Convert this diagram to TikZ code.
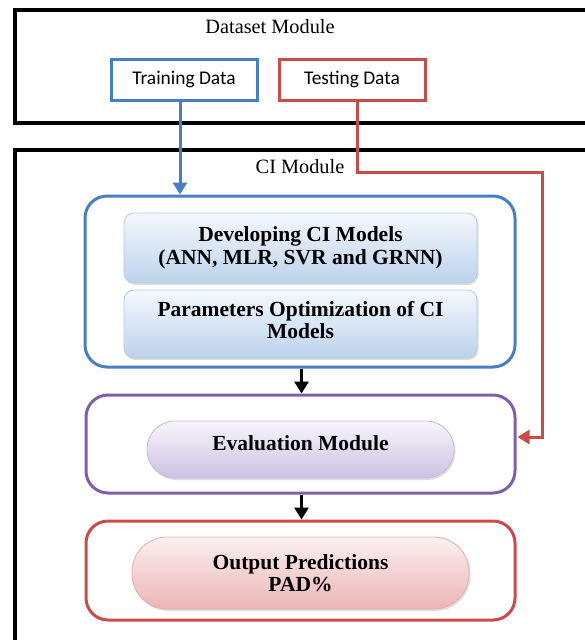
\documentclass[tikz,border=0pt]{standalone}
\usepackage{fontspec}
\setmainfont{Liberation Serif}
\newfontfamily\calibri{Carlito}
\usetikzlibrary{arrows.meta,shadows,calc}
\definecolor{cblue}{RGB}{72,126,196}
\definecolor{cred}{RGB}{200,76,76}
\definecolor{cpurple}{RGB}{126,96,170}
\definecolor{devtop}{RGB}{244,248,253}
\definecolor{devbot}{RGB}{188,210,236}
\definecolor{devline}{RGB}{178,204,232}
\definecolor{evtop}{RGB}{248,245,252}
\definecolor{evbot}{RGB}{204,194,226}
\definecolor{evline}{RGB}{196,186,222}
\definecolor{outtop}{RGB}{252,240,240}
\definecolor{outbot}{RGB}{236,180,180}
\definecolor{outline}{RGB}{232,170,170}
\tikzset{
  module/.style={draw=black, line width=3.5pt, minimum width=575pt, inner sep=0pt},
  databox/.style={line width=3pt, minimum width=146pt, minimum height=41pt, inner sep=0pt, font=\calibri\fontsize{19.4}{22}\selectfont},
  group/.style={rounded corners=22pt, line width=3pt, inner sep=0pt},
  inner/.style={rounded corners=10pt, line width=0.8pt, draw=devline, top color=devtop, bottom color=devbot, align=center, inner sep=0pt, minimum width=353pt,
    font=\bfseries\fontsize{21.5}{22.5}\selectfont, drop shadow={opacity=0.25, shadow xshift=1.5pt, shadow yshift=-2pt}},
  pill/.style={line width=0.8pt, align=center, inner sep=0pt, font=\bfseries\fontsize{21.5}{22.5}\selectfont,
    drop shadow={opacity=0.25, shadow xshift=1.5pt, shadow yshift=-2pt}},
  pilltext/.style={font=\bfseries\fontsize{21.5}{22.5}\selectfont, inner sep=0pt},
  title/.style={font=\fontsize{20.3}{23}\selectfont, inner sep=0pt},
  conn/.style={line width=3pt},
  tip/.style={-{Triangle[length=12pt,width=14pt]}}
}
\begin{document}
\begin{tikzpicture}[x=1pt,y=-1pt]
\useasboundingbox (0,0) rectangle (585,640);
\begin{scope}
\clip (0,0) rectangle (585,640);
% Dataset module
\node[module, minimum height=113pt] (dataset) at (302.5,66.5) {};
\node[title] (dtitle) at (270,27) {Dataset Module};
\node[databox, draw=cblue] (train) at (184,79.5) {Training Data};
\node[databox, draw=cred] (test) at (352,79.5) {Testing Data};
% CI module
\node[module, minimum height=500pt] (ci) at (302.5,400) {};
\node[title] (cititle) at (300,167) {CI Module};
% blue group
\node[group, draw=cblue, minimum width=430pt, minimum height=171pt] (bluegrp) at (300,281.5) {};
\node[inner, minimum height=70pt] (dev) at (300.5,248) {Developing CI Models\\(ANN, MLR, SVR and GRNN)};
\node[inner, minimum height=68pt, text depth=8pt] (param) at (300.5,324) {Parameters Optimization of CI\\Models};
% purple group
\node[group, draw=cpurple, minimum width=429pt, minimum height=98pt] (purplegrp) at (300.5,444) {};
\node[pill, rounded corners=28pt, draw=evline, top color=evtop, bottom color=evbot, minimum width=307pt, minimum height=57pt,
  label={[pilltext, yshift=6pt]center:Evaluation Module}] (eval) at (300.5,449.5) {};
% red group
\node[group, draw=cred, minimum width=429pt, minimum height=99pt] (redgrp) at (300.5,570.5) {};
\node[pill, rounded corners=35pt, draw=outline, top color=outtop, bottom color=outbot, minimum width=337pt, minimum height=72pt] (out) at (300.5,573) {Output Predictions\\PAD\%};
\end{scope}
% connectors
\coordinate (tb) at ([xshift=-4pt]train.south);
\draw[conn, draw=cblue, tip] (tb) -- (tb |- bluegrp.north);
\coordinate (ts) at ([xshift=5pt]test.south);
\coordinate (r1) at (357,172);
\coordinate (r2) at (542,172);
\coordinate (r3) at (542,437);
\coordinate (r4) at (purplegrp.east |- r3);
\draw[conn, draw=cred, tip] (ts) -- (r1) -- (r2) -- (r3) -- ([xshift=1pt]r4);
\draw[conn, tip] ([xshift=1.5pt]bluegrp.south) -- ([xshift=1pt]purplegrp.north);
\draw[conn, tip] ([xshift=1pt]purplegrp.south) -- ([xshift=1pt]redgrp.north);
\end{tikzpicture}
\end{document}
